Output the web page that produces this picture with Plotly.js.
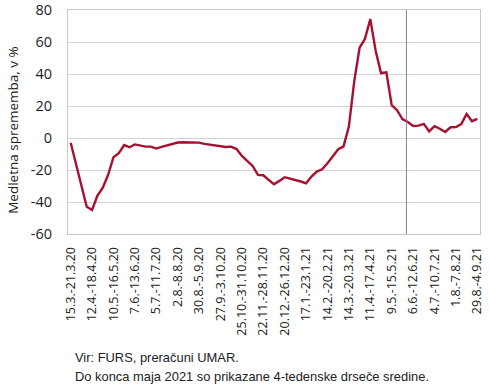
<!DOCTYPE html>
<html>
<head>
<meta charset="utf-8">
<script src="https://cdn.plot.ly/plotly-3.0.1.min.js"></script>
<style>
html,body{margin:0;padding:0;background:#fff;}
#chart{width:490px;height:388px;}
</style>
</head>
<body>
<div id="chart"></div>
<script>
// Weekly year-on-year change, % (77 weeks: 15.3.-21.3.20 ... 29.8.-4.9.21)
const values = [
  -3, -16, -30, -43, -45, -36, -31, -23, -12, -9.5,
  -4.4, -5.8, -4, -4.6, -5.4, -5.4, -6.6, -5.6, -4.6, -4,
  -2.8, -2.7, -2.7, -2.5, -2.9, -3.7, -4.2, -4.4, -4.8, -5.6,
  -5.4, -6.9, -11.2, -14.1, -17.5, -23.1, -23.3, -26.2, -28.9, -26.8,
  -24.5, -25.4, -26.2, -27.2, -28.3, -24.1, -21, -19.6, -15.8, -11.2,
  -7, -5.2, 7.3, 35.5, 56.5, 62, 74.3, 54.5, 40.6, 41.1,
  20.5, 17.4, 11.8, 10, 7.5, 7.7, 8.8, 4.1, 7.4, 5.8,
  3.8, 6.7, 6.9, 8.7, 15, 10.5, 12
];
const tickLabels = [
  "15.3.-21.3.20", "12.4.-18.4.20", "10.5.-16.5.20", "7.6.-13.6.20", "5.7.-11.7.20",
  "2.8.-8.8.20", "30.8.-5.9.20", "27.9.-3.10.20", "25.10.-31.10.20", "22.11.-28.11.20",
  "20.12.-26.12.20", "17.1.-23.1.21", "14.2.-20.2.21", "14.3.-20.3.21", "11.4.-17.4.21",
  "9.5.-15.5.21", "6.6.-12.6.21", "4.7.-10.7.21", "1.8.-7.8.21", "29.8.-4.9.21"
];
const tickStep = 4;
const yTicks = [-60, -40, -20, 0, 20, 40, 60, 80];
const yTickText = ["-60", "-40", "-20", "0", "20", "40", "60", "80"];
const splitWeek = 62.75; // end of May 2021 marker
const yTitle = "Medletna sprememba, v %";
const note1 = "Vir: FURS, preračuni UMAR.";
const note2 = "Do konca maja 2021 so prikazane 4-tedenske drseče sredine.";

const xs = values.map((_, i) => i);
const tickVals = tickLabels.map((_, i) => i * tickStep);

const fontA = "Open Sans, Noto Sans, sans-serif";
const fontB = "Liberation Sans, Arial, sans-serif";

const trace = {
  x: xs, y: values, type: "scatter", mode: "lines",
  line: {color: "#a5112e", width: 2.4},
  hoverinfo: "skip"
};

const layout = {
  width: 490, height: 388,
  margin: {l: 68, r: 10, t: 10, b: 154},
  paper_bgcolor: "#fff", plot_bgcolor: "#fff",
  font: {family: fontA, size: 13, color: "#222"},
  showlegend: false,
  xaxis: {
    range: [-0.5, values.length - 0.5],
    tickmode: "array", tickvals: tickVals, ticktext: tickLabels,
    tickangle: -90, tickfont: {family: fontA, size: 12.5, color: "#222"},
    showgrid: false, zeroline: false,
    showline: true, linecolor: "#c8c8c8", linewidth: 1, mirror: true,
    ticks: "", ticklabelstandoff: 7
  },
  yaxis: {
    range: [-60, 80],
    tickmode: "array", tickvals: yTicks, ticktext: yTickText,
    tickfont: {family: fontA, size: 14.5, color: "#222"},
    showgrid: true, gridcolor: "#d4d4d4", gridwidth: 1,
    zeroline: false,
    showline: true, linecolor: "#c8c8c8", linewidth: 1, mirror: true,
    ticks: "", ticklabelstandoff: 12
  },
  shapes: [{
    type: "line", xref: "x", yref: "paper",
    x0: splitWeek, x1: splitWeek, y0: 0, y1: 1,
    line: {color: "#7d889c", width: 1}
  }],
  annotations: [
    {text: yTitle, xref: "paper", yref: "paper", x: -0.1335, y: 0.465,
     xanchor: "center", yanchor: "middle", textangle: -90, showarrow: false,
     font: {family: fontA, size: 13.5, color: "#222"}},
    {text: note1, xref: "paper", yref: "paper", x: 0.012, y: -0.552,
     xanchor: "left", yanchor: "middle", showarrow: false,
     font: {family: fontB, size: 12.9, color: "#222"}},
    {text: note2, xref: "paper", yref: "paper", x: 0.012, y: -0.635,
     xanchor: "left", yanchor: "middle", showarrow: false,
     font: {family: fontB, size: 12.9, color: "#222"}}
  ]
};

Plotly.newPlot("chart", [trace], layout, {displayModeBar: false, staticPlot: true});
</script>
</body>
</html>
